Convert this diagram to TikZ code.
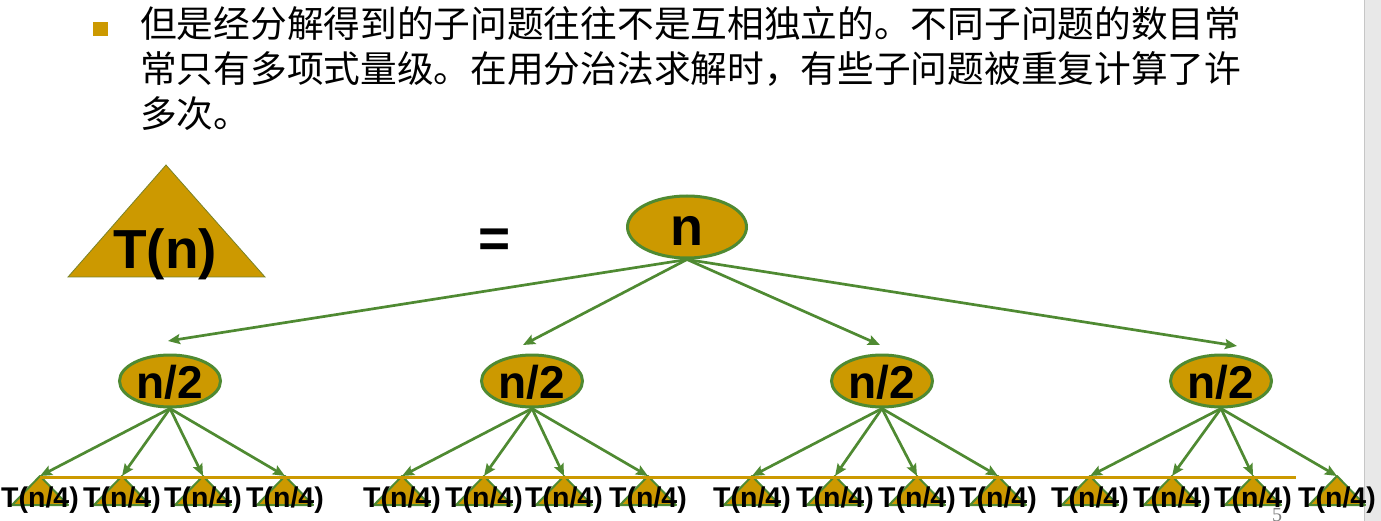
\documentclass[tikz,border=0pt]{standalone}
\usepackage{fontspec}
\setmainfont{Liberation Sans}
\newfontfamily\cjk{Noto Sans CJK SC}
\newfontfamily\serifnum{Liberation Serif}
\usetikzlibrary{arrows.meta,shapes.geometric}
\definecolor{gold}{RGB}{204,153,0}
\definecolor{tgreen}{RGB}{79,138,50}
\definecolor{olive}{RGB}{120,130,40}
\begin{document}
\begin{tikzpicture}[x=1pt,y=-1pt,
  cjkline/.style={anchor=base west, inner sep=0pt, font=\cjk\fontsize{36.7}{44}\selectfont},
  treenode/.style={ellipse, draw=tgreen, line width=3pt, fill=gold, inner sep=0pt},
  lbl/.style={anchor=base, inner sep=0pt, font=\bfseries\fontsize{#1}{#1}\selectfont},
  conn/.style={draw=tgreen, line width=2.7pt, -{Stealth[length=12pt,width=10pt,inset=2pt]}},
  leaftri/.style={fill=gold, draw=tgreen, line width=2pt, line join=round},
]
\useasboundingbox (0,0) rectangle (1381,521);
% right gray strip
\fill[gray!18] (1364,0) rectangle (1381,521);
\draw[gray!45, line width=1pt] (1364,0) -- (1364,521);

% bullet and text
\fill[gold] (93,22) rectangle (108,36);
\node[cjkline] (t1) at (140,38) {但是经分解得到的子问题往往不是互相独立的。不同子问题的数目常};
\node[cjkline] (t2) at (140,83) {常只有多项式量级。在用分治法求解时，有些子问题被重复计算了许};
\node[cjkline] (t3) at (140,128) {多次。};

% T(n) triangle
\filldraw[fill=gold, draw=olive, line width=0.8pt] (166,165) -- (265,277) -- (68,277) -- cycle;
\node[lbl=55] (tn) at (165,269) {T(n)};
\node[lbl=55] (eq) at (495,258) {=};

% root
\node[treenode, minimum width=119pt, minimum height=62pt] (root) at (687,227) {};
\node[lbl=54] (rootl) at (687,246) {n};

% second level
\foreach \i/\cx in {1/170, 2/532, 3/882, 4/1221}{
  \node[treenode, minimum width=101pt, minimum height=52pt] (h\i) at (\cx,381) {};
  \node[lbl=46] (hl\i) at (\cx,398) {n/2};
}
\coordinate (a1) at (168,341);
\coordinate (a2) at (523,345);
\coordinate (a3) at (880,345);
\coordinate (a4) at (1237,346);
\foreach \i in {1,2,3,4}{
  \draw[conn] (root.south) -- (a\i);
}

% leaves
\foreach \i/\a/\b/\c/\d in {1/40/122/203/285, 2/402/484/564/648, 3/752/835/917/998, 4/1090/1172/1253/1337}{
  \foreach \j/\x in {1/\a, 2/\b, 3/\c, 4/\d}{
    \coordinate (l\i\j) at (\x,476);
    \filldraw[leaftri] (\x,476) -- (\x+28,505) -- (\x-28,505) -- cycle;
  }
}
\draw[gold, line width=3pt] (40,477) -- (1296,477);
\foreach \i in {1,2,3,4}{
  \foreach \j in {1,2,3,4}{
    \draw[conn] (h\i.south) -- (l\i\j);
  }
}
\foreach \i/\a/\b/\c/\d in {1/40/122/203/285, 2/402/484/564/648, 3/752/835/917/998, 4/1090/1172/1253/1337}{
  \foreach \j/\x in {1/\a, 2/\b, 3/\c, 4/\d}{
    \node[lbl=28.5] (ll\i\j) at (\x,507) {T(n/4)};
  }
}
\node[anchor=base, inner sep=0pt, font=\serifnum\fontsize{20}{20}\selectfont, text=gray] (pg) at (1277,521) {5};
\end{tikzpicture}
\end{document}
